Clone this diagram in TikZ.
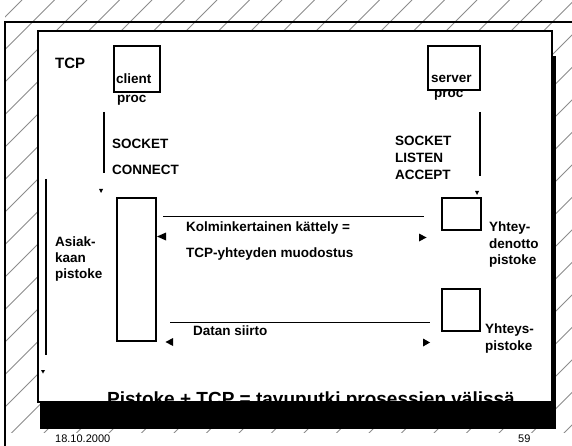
\documentclass[tikz,border=0pt]{standalone}
\usepackage{fontspec}
\setmainfont{Liberation Sans}
\begin{document}
\begin{tikzpicture}[x=1pt,y=-1pt,
  hatch/.style={draw=black!45,line width=0.8pt},
  frame/.style={draw=black,line width=1.3pt},
  sockbox/.style={draw=black,line width=1.2pt,fill=white,inner sep=0pt},
  wire/.style={draw=black,line width=1.2pt},
  lbl/.style={anchor=base west,inner sep=0pt,font=\bfseries\fontsize{13.5}{16}\selectfont},
  foot/.style={anchor=base west,inner sep=0pt,font=\fontsize{11}{13}\selectfont}]
\useasboundingbox (0,0) rectangle (572,446);

% hatched backdrop
\begin{scope}
  \clip (5,0) rectangle (572,432);
  \foreach \k in {-1,...,32}
    \draw[hatch] ({22+32.5*\k},0) -- ++(-446,446);
\end{scope}

% outer frame lines
\draw[frame] (5,446) -- (5,22) -- (572,22);

% drop shadow, white panel
\fill[black] (41,56) rectangle (555.5,402);
\filldraw[fill=white,draw=black,line width=1.3pt] (38,31) rectangle (552,402);

% title (partly covered by the bar)
\node[anchor=base west,inner sep=0pt,font=\bfseries\fontsize{19}{22}\selectfont]
  (title) at (107,405.5) {Pistoke + TCP = tavuputki prosessien välissä};
\fill[black] (40,402) rectangle (555.5,429);

% footer
\node[foot] (date) at (55,442) {18.10.2000};
\node[foot] (page) at (518,442) {59};

% heading
\node[anchor=base west,inner sep=0pt,font=\bfseries\fontsize{15}{18}\selectfont] (tcp) at (55,69) {TCP};

% processes
\node[sockbox,minimum width=46pt,minimum height=46pt] (cproc) at (137,69) {};
\node[lbl] (cprocA) at (116,84) {client};
\node[lbl] (cprocB) at (117,103) {proc};
\node[sockbox,minimum width=52pt,minimum height=43.5pt] (sproc) at (454,67.75) {};
\node[lbl] (sprocA) at (431,83) {server};
\node[lbl] (sprocB) at (434,98) {proc};
\draw[line width=1.2pt] (sproc.south west) -- (sproc.south east);

% system call sequences
\coordinate (cc1) at (104,112); \coordinate (cc2) at (104,173);
\draw[wire] (cc1) -- (cc2);
\fill (99,189) -- (103,189) -- (101,193) -- cycle;
\node[lbl] (csock) at (112,149) {SOCKET};
\node[lbl] (cconn) at (112,175) {CONNECT};

\coordinate (sc1) at (480,112); \coordinate (sc2) at (480,176);
\draw[wire] (sc1) -- (sc2);
\fill (475,191) -- (479,191) -- (477,195) -- cycle;
\node[lbl] (ssock) at (395,146) {SOCKET};
\node[lbl] (slist) at (395,163) {LISTEN};
\node[lbl] (sacc) at (395,180) {ACCEPT};

% client socket
\coordinate (lc1) at (46,179); \coordinate (lc2) at (46,355);
\draw[wire] (lc1) -- (lc2);
\fill (41,370) -- (45,370) -- (43,373.5) -- cycle;
\node[sockbox,minimum width=39pt,minimum height=143pt] (csk) at (136.5,269.5) {};
\node[lbl] (ca1) at (55,246) {Asiak-};
\node[lbl] (ca2) at (55,262) {kaan};
\node[lbl] (ca3) at (55,278) {pistoke};

% server sockets
\node[sockbox,minimum width=39pt,minimum height=32pt] (lsk) at (461.5,214) {};
\node[lbl] (la1) at (489,232) {Yhtey-};
\node[lbl] (la2) at (489,248) {denotto};
\node[lbl] (la3) at (489,264) {pistoke};
\node[sockbox,minimum width=38pt,minimum height=42pt] (dsk) at (461,310) {};
\node[lbl] (da1) at (485,333) {Yhteys-};
\node[lbl] (da2) at (485,350) {pistoke};

% handshake
\coordinate (h1) at (163,216.5); \coordinate (h2) at (424,216.5);
\draw[wire] (h1) -- (h2);
\fill (157,236.5) -- (166,232.5) -- (166,240.5) -- cycle;
\fill (426.5,237.5) -- (419,233.5) -- (419,241.5) -- cycle;
\node[lbl] (hs1) at (186,232) {Kolminkertainen kättely =};
\node[lbl] (hs2) at (186,257) {TCP-yhteyden muodostus};

% data transfer
\coordinate (d1) at (170,322.5); \coordinate (d2) at (430,322.5);
\draw[wire] (d1) -- (d2);
\fill (165.5,342) -- (173,338) -- (173,346) -- cycle;
\fill (430,342.5) -- (423,338.5) -- (423,346.5) -- cycle;
\node[lbl] (dt) at (193,335) {Datan siirto};
\end{tikzpicture}
\end{document}
